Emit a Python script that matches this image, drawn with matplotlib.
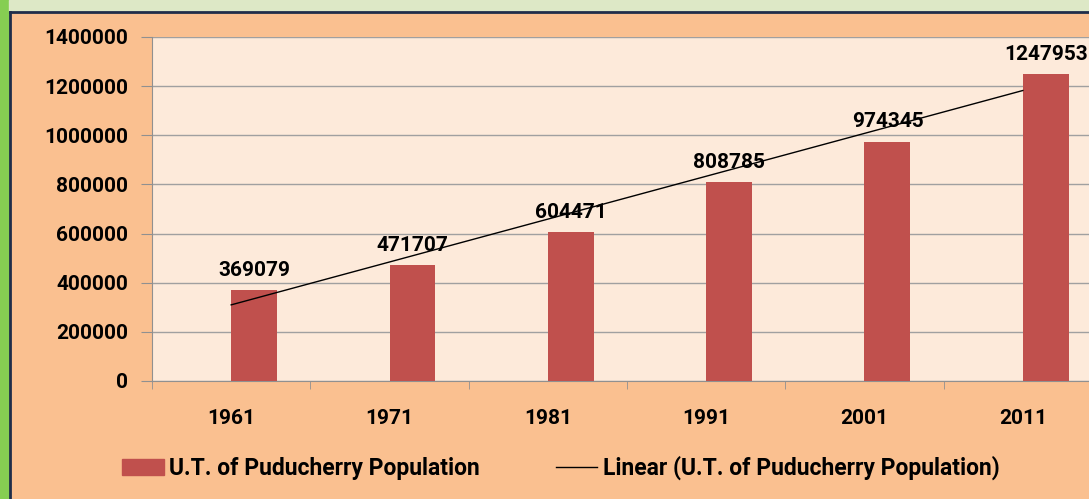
import matplotlib.pyplot as plt
import matplotlib.patches as mpatches
from matplotlib.lines import Line2D
import numpy as np

years = ['1961', '1971', '1981', '1991', '2001', '2011']
population = [369079, 471707, 604471, 808785, 974345, 1247953]
blank_series = [0, 0, 0, 0, 0, 0]
yticks = [0, 200000, 400000, 600000, 800000, 1000000, 1200000, 1400000]

W, H = 1089, 499
plt.rcParams['font.family'] = ['Roboto', 'DejaVu Sans']
plt.rcParams['font.weight'] = 'bold'

fig = plt.figure(figsize=(W / 100, H / 100), dpi=100)
fig.patch.set_facecolor('#FAC090')

# frame decorations (green strip, top band, dark border)
fig.patches.append(mpatches.Rectangle((0, 0), 9 / W, 1, transform=fig.transFigure,
                                      color='#86CE52', zorder=0))
fig.patches.append(mpatches.Rectangle((9 / W, (H - 11) / H), 1, 11 / H, transform=fig.transFigure,
                                      color='#DDE8C6', zorder=0))
fig.lines.append(Line2D([10 / W, 10 / W], [0, (H - 12) / H], transform=fig.transFigure,
                        color='#1F2D4A', lw=2))
fig.lines.append(Line2D([10 / W, 1], [(H - 12) / H, (H - 12) / H], transform=fig.transFigure,
                        color='#1F2D4A', lw=2))

left, right, top, bottom = 152, 1102, 37, 381
ax = fig.add_axes([left / W, (H - bottom) / H, (right - left) / W, (bottom - top) / H])
ax.set_facecolor('#FDEADA')

x = np.arange(len(years))
bw = 0.29
ax.bar(x - 0.145, blank_series, bw, color='#4F81BD', zorder=3)
ax.bar(x + 0.145, population, bw, color='#C0504D', zorder=3)

for xi, v in zip(x, population):
    ax.text(xi + 0.145, v + 42000, str(v), ha='center', va='bottom',
            fontsize=15, fontweight='bold', color='black', zorder=5)

coef = np.polyfit(x + 1, population, 1)
trend = np.polyval(coef, x + 1)
ax.plot(x, trend, color='black', lw=1, zorder=4)

ax.set_xlim(-0.5, 5.5)
ax.set_ylim(0, 1400000)
ax.set_yticks(yticks)
ax.set_yticklabels([str(t) for t in yticks], fontsize=15, fontweight='bold')
ax.set_xticks(x)
ax.set_xticklabels(years, fontsize=15, fontweight='bold')
ax.set_xticks(np.arange(-0.5, 6, 1), minor=True)
ax.tick_params(axis='x', which='major', length=0, pad=20)
ax.tick_params(axis='x', which='minor', length=6, color='#909090', direction='out')
ax.tick_params(axis='y', length=8, color='#909090', pad=9)
ax.grid(axis='y', color='#A0A0A0', lw=1, zorder=1)
for s in ['top', 'right']:
    ax.spines[s].set_visible(False)
ax.spines['left'].set_color('#909090')
ax.spines['bottom'].set_color('#909090')

handles = [mpatches.Patch(color='#C0504D'), Line2D([0], [0], color='black', lw=1)]
labels = ['U.T. of Puducherry Population', 'Linear (U.T. of Puducherry Population)']
fig.legend(handles, labels, loc='center', bbox_to_anchor=(561 / W, 31 / H), ncol=2,
           frameon=False, prop={'size': 16.5, 'weight': 'bold'},
           handlelength=1.8, handletextpad=0.25, columnspacing=3.3)

fig.savefig('out.png', dpi=100, facecolor=fig.get_facecolor())
